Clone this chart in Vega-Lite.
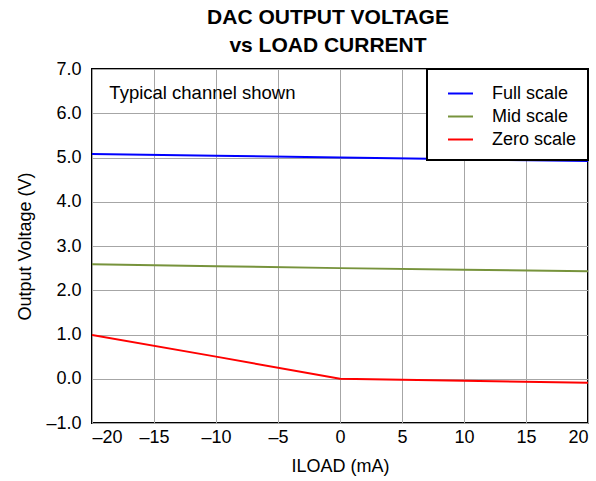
{
  "$schema": "https://vega.github.io/schema/vega-lite/v6.json",
  "autosize": {"type": "none"},
  "padding": {"left": 92, "top": 69, "right": 8, "bottom": 58},
  "width": 496,
  "height": 354,
  "background": "white",
  "title": {
    "text": ["DAC OUTPUT VOLTAGE", "vs LOAD CURRENT"],
    "font": "Liberation Sans",
    "fontSize": 21,
    "fontWeight": "bold",
    "lineHeight": 28,
    "color": "black",
    "anchor": "middle",
    "frame": "group",
    "dx": -12,
    "offset": 4
  },
  "config": {
    "font": "Liberation Sans",
    "view": {"stroke": "black", "strokeWidth": 2},
    "axis": {
      "domain": false,
      "ticks": false,
      "grid": true,
      "gridColor": "#a6a6a6",
      "gridWidth": 1,
      "labelFont": "Liberation Sans",
      "labelFontSize": 18,
      "labelColor": "black",
      "titleFont": "Liberation Sans",
      "titleFontSize": 18,
      "titleFontWeight": "normal",
      "titleColor": "black"
    },
    "legend": {
      "orient": "top-right",
      "offset": 0,
      "strokeColor": "black",
      "strokeWidth": 2,
      "fillColor": "white",
      "padding": 11,
      "labelFont": "Liberation Sans",
      "labelFontSize": 18,
      "labelColor": "black",
      "symbolType": "stroke",
      "symbolSize": 625,
      "symbolStrokeWidth": 2,
      "symbolOffset": 9,
      "labelOffset": 18,
      "rowPadding": 0
    }
  },
  "layer": [
    {
      "data": {
        "values": [
          {"series": "Full scale", "x": -20, "y": 5.08},
          {"series": "Full scale", "x": -10, "y": 5.04},
          {"series": "Full scale", "x": 0, "y": 5.0},
          {"series": "Full scale", "x": 10, "y": 4.96},
          {"series": "Full scale", "x": 20, "y": 4.92},
          {"series": "Mid scale", "x": -20, "y": 2.59},
          {"series": "Mid scale", "x": -10, "y": 2.545},
          {"series": "Mid scale", "x": 0, "y": 2.5},
          {"series": "Mid scale", "x": 10, "y": 2.465},
          {"series": "Mid scale", "x": 20, "y": 2.43},
          {"series": "Zero scale", "x": -20, "y": 0.99},
          {"series": "Zero scale", "x": -10, "y": 0.5},
          {"series": "Zero scale", "x": 0, "y": 0.0},
          {"series": "Zero scale", "x": 10, "y": -0.045},
          {"series": "Zero scale", "x": 20, "y": -0.09}
        ]
      },
      "mark": {"type": "line", "strokeWidth": 2, "clip": true},
      "encoding": {
        "x": {
          "field": "x",
          "type": "quantitative",
          "scale": {"domain": [-20, 20], "nice": false},
          "axis": {
            "values": [-20, -15, -10, -5, 0, 5, 10, 15, 20],
            "labelExpr": "(datum.value < 0 ? '–' : '') + format(abs(datum.value), 'd')",
            "labelPadding": 5,
            "title": "ILOAD (mA)",
            "titlePadding": 11
          }
        },
        "y": {
          "field": "y",
          "type": "quantitative",
          "scale": {"domain": [-1, 7], "nice": false},
          "axis": {
            "values": [-1, 0, 1, 2, 3, 4, 5, 6, 7],
            "labelExpr": "(datum.value < 0 ? '–' : '') + format(abs(datum.value), '.1f')",
            "labelPadding": 11,
            "title": "Output Voltage (V)",
            "titlePadding": 11
          }
        },
        "color": {
          "field": "series",
          "type": "nominal",
          "scale": {
            "domain": ["Full scale", "Mid scale", "Zero scale"],
            "range": ["#0000ff", "#77933c", "#ff0000"]
          },
          "legend": {"title": null}
        }
      }
    },
    {
      "data": {"values": [{"note": "Typical channel shown"}]},
      "mark": {
        "type": "text",
        "align": "left",
        "baseline": "middle",
        "fontSize": 18.5,
        "font": "Liberation Sans",
        "color": "black"
      },
      "encoding": {
        "x": {"datum": -18.6},
        "y": {"datum": 6.46},
        "text": {"field": "note", "type": "nominal"}
      }
    }
  ]
}
